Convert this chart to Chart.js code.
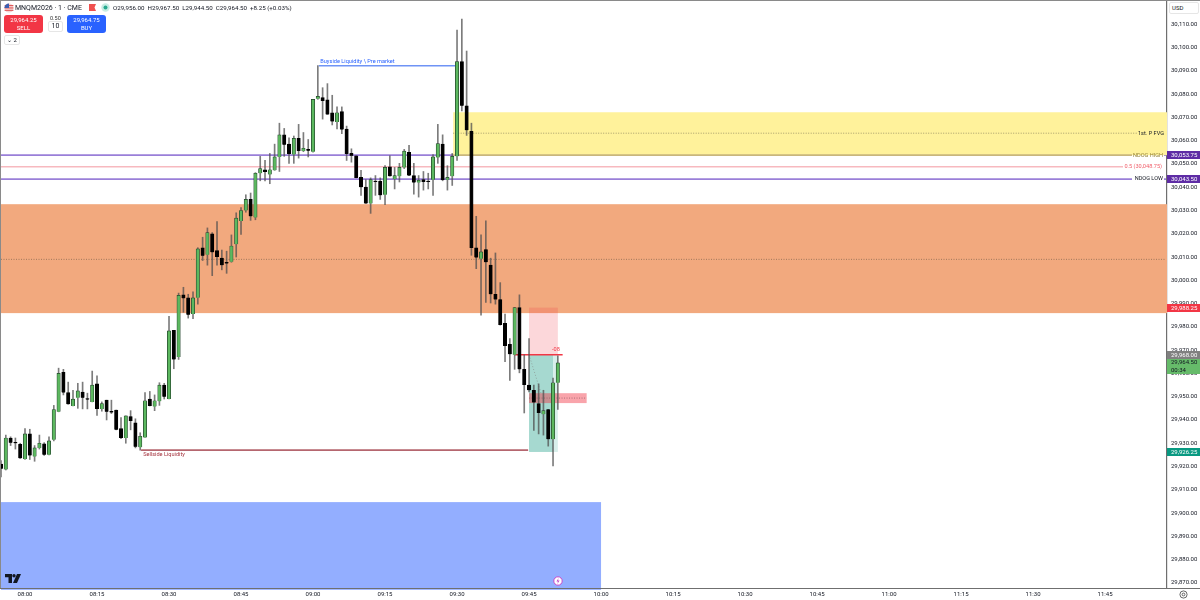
<!DOCTYPE html>
<html>
<head>
<meta charset="utf-8">
<title>MNQM2026 1m</title>
<script src="https://cdn.jsdelivr.net/npm/chart.js@4/dist/chart.umd.min.js"></script>
<style>
html, body { margin: 0; padding: 0; background: #fff; }
#wrap { position: relative; width: 1200px; height: 600px; overflow: hidden; font-family: Roboto, sans-serif; color: #131722; }
canvas { position: absolute; left: 0; top: 0; }
.hd { position: absolute; white-space: nowrap; font-size: 6.2px; line-height: 8px; }
.btn { position: absolute; top: 15px; width: 39px; height: 18px; border-radius: 3px; color: #fff; text-align: center; font-size: 6px; line-height: 8px; padding-top: 1px; box-sizing: border-box; }
.box { position: absolute; box-sizing: border-box; border: 1px solid #e6e6e6; border-radius: 2px; background: #fff; text-align: center; }
</style>
</head>
<body>
<div id="wrap">
  <canvas id="grafica" width="1200" height="600"></canvas>

  <svg style="position:absolute;left:4px;top:3px" width="10" height="10" viewBox="0 0 10 10">
    <circle cx="5" cy="5" r="4.6" fill="#f5d5d5"/><rect x="0.6" y="2" width="8.8" height="1.1" fill="#e05a5a"/><rect x="0.6" y="4.4" width="8.8" height="1.1" fill="#e05a5a"/><rect x="0.6" y="6.8" width="8.8" height="1.1" fill="#e05a5a"/>
    <path d="M5 0.4A4.6 4.6 0 0 0 0.4 5H5Z" fill="#3c5fb0"/>
  </svg>
  <div class="hd" style="left:15px;top:4px;font-size:7px">MNQM2026 · 1 · CME</div>
  <svg style="position:absolute;left:89px;top:4px" width="7" height="8" viewBox="0 0 7 8"><path d="M0 0H7L5.5 3.5L7 7H0Z" fill="#f0504f"/></svg>
  <svg style="position:absolute;left:101px;top:3px" width="9" height="9" viewBox="0 0 9 9"><circle cx="4.5" cy="4.5" r="4.2" fill="#c7ece4"/><circle cx="4.5" cy="4.5" r="2" fill="#27a98f"/></svg>
  <div class="hd" style="left:113px;top:4px">O29,956.00&nbsp; H29,967.50&nbsp; L29,944.50&nbsp; C29,964.50&nbsp; +8.25 (+0.03%)</div>

  <div class="btn" style="left:4px;background:#f23645">29,964.25<br>SELL</div>
  <div class="hd" style="left:50px;top:14px;font-size:5.5px;color:#333">0.50</div>
  <div class="box" style="left:48px;top:21px;width:15px;height:11px;font-size:7px;line-height:9px">10</div>
  <div class="btn" style="left:67px;background:#2962ff">29,964.75<br>BUY</div>
  <div class="box" style="left:4px;top:35px;width:16px;height:10px;font-size:6px;line-height:8px">⌄ 2</div>

  <div class="box" style="left:1169px;top:2px;width:30px;height:12px;font-size:6px;line-height:10px;text-align:left;padding-left:2px">USD</div>

  <svg style="position:absolute;left:5px;top:574px" width="16" height="9" viewBox="0 0 16 9">
    <path d="M0 0H7V9H3.5V3.2H0Z" fill="#131722"/><circle cx="9" cy="1.7" r="1.7" fill="#131722"/><path d="M12 0H16L12 9H8Z" fill="#131722"/>
  </svg>
  <svg style="position:absolute;left:553px;top:576px" width="10" height="10" viewBox="0 0 10 10">
    <circle cx="5" cy="5" r="4.2" fill="#fff" stroke="#c548c9" stroke-width="1"/><path d="M5.6 2L3.4 5.5H5L4.4 8L6.6 4.5H5Z" fill="#c548c9"/>
  </svg>
  <svg style="position:absolute;left:1179px;top:590px" width="9" height="9" viewBox="0 0 9 9">
    <circle cx="4.5" cy="4.5" r="3.6" fill="none" stroke="#444" stroke-width="0.8"/><circle cx="4.5" cy="4.5" r="1.4" fill="none" stroke="#444" stroke-width="0.8"/>
  </svg>
</div>

<script>
// minutes from 08:00 for every one-minute candle
const minutes = [-5,-4,-3,-2,-1,0,1,2,3,4,5,6,7,8,9,10,11,12,13,14,15,16,17,18,19,20,21,22,23,24,25,26,27,28,29,30,31,32,33,34,35,36,37,38,39,40,41,42,43,44,45,46,47,48,49,50,51,52,53,54,55,56,57,58,59,60,61,62,63,64,65,66,67,68,69,70,71,72,73,74,75,76,77,78,79,80,81,82,83,84,85,86,87,88,89,90,91,92,93,94,95,96,97,98,99,100,101,102,103,104,105,106,107,108,109,110,111];

const opens = [29921,29918.75,29932.25,29930.25,29929.5,29923.25,29934,29924.25,29928,29929.75,29925,29931.5,29943.5,29960.5,29951.75,29946,29949.5,29952,29949,29947.75,29955.5,29944.75,29948.5,29943.75,29944.25,29936.25,29932.25,29941.5,29938.75,29928.25,29932.5,29949,29945.75,29948,29955,29949,29978.5,29967,29993.75,29992.5,29985.5,29992.5,30014,30011,30020,30012.75,30009.5,30007.75,30008,30015.5,30025.5,30030,30034.75,30027,30046,30047.5,30045.5,30047.25,30053,30062.5,30058.5,30054,30061,30055.5,30056.25,30055.25,30078,30078.5,30077.5,30072,30068,30072.5,30065,30054.5,30053.5,30044.25,30040,30033,30042.5,30042.5,30036.75,30048.75,30043.5,30044.75,30048.5,30055,30045,30042,30043.25,30042.5,30043.25,30052.75,30058.5,30043.25,30044.75,30053.25,30094,30075,30064,30014,30009.25,30013.25,30006.5,29994,29991.75,29981.5,29972.5,29968,29988.25,29961.75,29955,29952.75,29947,29942.5,29944.5,29931.75,29956];
const highs = [29922.5,29933.5,29932.75,29932.25,29930,29936.25,29936,29929,29933.5,29930.25,29932.75,29946.25,29962.25,29961.75,29956.25,29952.75,29955.75,29956.25,29951.5,29961,29959,29947.75,29948.5,29948.5,29944.25,29941,29941.75,29944,29940.5,29934.5,29951.75,29952.25,29950.75,29956,29955.75,29984.5,29978.5,29994.5,29997,29994,29995,30014,30018.5,30022.5,30020.5,30025.25,30013,30012.5,30019.5,30029,30031.25,30036.75,30037.5,30046.25,30053.25,30051.5,30054.5,30058.5,30067.5,30065.25,30061.25,30062,30067,30063.5,30060.5,30077.75,30092.25,30082.75,30084.5,30079.5,30074.5,30074.5,30066.25,30056.5,30053.5,30047.25,30043.25,30044,30045,30044,30049.25,30053.5,30048.5,30050.25,30056.25,30058,30050.25,30045,30046.75,30046,30054,30067,30062.5,30049.25,30054.5,30107.5,30112.25,30098.5,30067.5,30027.5,30019.5,30025.5,30009.5,30011.75,29999,29985.5,29975,29988.25,29993.75,29968,29975,29955,29955.5,29952.75,29944.5,29958,29967.5];
const lows = [29915.5,29918.5,29929,29927.5,29923.5,29923,29923,29922.25,29927.5,29924.75,29925,29931,29943.5,29950.75,29946.75,29946,29945,29944.75,29944.75,29947.75,29942,29943.75,29940,29942.75,29935.75,29932,29930,29935.75,29928,29927,29932.5,29946,29944,29946.25,29949,29949,29962,29966,29986.25,29983.75,29983.5,29989.75,30008.5,30006.5,30002,30006.5,30004.5,30003,30007.75,30010,30019.75,30029.25,30025.75,30026,30042.75,30042.75,30041.5,30047.25,30046.75,30053.25,30050.25,30050.25,30052.5,30055.25,30053,30055,30077.75,30069.25,30071.25,30066.75,30065,30063,30051.5,30050.75,30044,30036.5,30033,30028.75,30036.5,30034.75,30032.5,30044.75,30039.25,30042.25,30048,30045,30037,30035.75,30038.75,30039.25,30036.5,30050.25,30042.75,30038.75,30040.75,30051.5,30072.75,30062.25,30010.75,30005,29985,29990.5,29990.25,29989.75,29980.75,29965,29957,29961.75,29960.25,29943,29952,29935.5,29934,29933.5,29928.75,29920.25,29944.5];
const closes = [29919,29932.25,29930.25,29930,29923.5,29934,29924.75,29928,29930,29925,29931,29944.5,29960,29951.75,29946.75,29949,29952.5,29949.5,29948.75,29955,29944.75,29947,29943.5,29943.25,29935.75,29932.25,29941.75,29939.5,29928.5,29933,29948.25,29946,29948.25,29955,29950,29978.25,29966,29993.5,29992.25,29985.25,29992.5,30013.5,30010.5,30020.5,30012,30010,30006.5,30007.25,30014.75,30026.75,30030,30034.75,30027.5,30046,30048,30046.5,30047.5,30053,30062.5,30058.25,30054.25,30061,30055.5,30056.75,30055.75,30077.75,30079,30077,30071.25,30068.25,30072,30064.75,30054.25,30053.5,30044,30040,30033,30043.25,30042.25,30036.5,30048.5,30044.75,30045,30048.5,30055.5,30045,30042,30043,30042.25,30042.25,30053,30058.75,30043.25,30044.25,30053.25,30094,30075,30064.5,30014,30009.75,30012.25,30007.75,29994,29991.75,29980.75,29971.75,29968.25,29988.25,29961.75,29955,29952.75,29947.5,29943,29944,29931.75,29956,29964.5];

const timeTicks = [0,15,30,45,60,75,90,105,120,135,150,165,180,195,210,225];
const timeLabels = ['08:00','08:15','08:30','08:45','09:00','09:15','09:30','09:45','10:00','10:15','10:30','10:45','11:00','11:15','11:30','11:45'];
const priceTicks = [30110,30100,30090,30080,30070,30060,30050,30040,30030,30020,30010,30000,29990,29980,29970,29960,29950,29940,29930,29920,29910,29900,29890,29880,29870];

// drawn levels, prices and minutes
const fvgZone = [89.2, 237.9, 30072.2, 30053.75];
const supplyZone = [-5, 237.9, 30032.7, 29985.9];
const demandZone = [-5, 120, 29904.7, 29867];
const ndogHigh = 30053.75;
const ndogLow = 30043.5;
const ndogMid = 30048.75;
const fvgMid = 30063.2;
const supplyMid = 30009;
const buyside = [61.2, 90, 30092.2];
const sellside = [24.2, 104.8, 29927];
const entry = 29968;
const stopPrice = 29988.25;
const targetPrice = 29926.25;
const positionSpan = [105, 111, 110];
const entryLine = [102, 112];
const redBox = [105, 117, 29951.5, 29947.25, 29949.4];
const lastPrice = 29964.5;

const wickData = minutes.map((m, i) => ({ x: m, y: [lows[i], highs[i]] }));
const bodyData = minutes.map((m, i) => ({ x: m, y: [Math.min(opens[i], closes[i]), Math.max(opens[i], closes[i])] }));
const bodyColors = closes.map((c, i) => c >= opens[i] ? '#5cb85f' : '#000000');
const bodyBorders = closes.map((c, i) => c >= opens[i] ? '#22422a' : '#000000');

const fmt = v => v.toLocaleString('en-US', { minimumFractionDigits: 2, maximumFractionDigits: 2 });
const FONT = '6px Roboto, sans-serif';
const NOTE_FONT = '5.6px Roboto, sans-serif';

const overlays = {
    id: 'overlays',
    beforeDatasetsDraw(chart) {
        const { ctx, scales } = chart;
        const X = v => scales.x.getPixelForValue(v);
        const Y = v => scales.y.getPixelForValue(v);

        const zone = (z, color) => {
            ctx.fillStyle = color;
            ctx.fillRect(X(z[0]), Y(z[2]), X(z[1]) - X(z[0]), Y(z[3]) - Y(z[2]));
        };
        const line = (x0, x1, p, color, w, dash) => {
            ctx.beginPath();
            ctx.strokeStyle = color;
            ctx.lineWidth = w;
            ctx.setLineDash(dash || []);
            ctx.moveTo(x0, Y(p));
            ctx.lineTo(x1, Y(p));
            ctx.stroke();
            ctx.setLineDash([]);
        };

        ctx.save();
        zone(demandZone, '#93aeff');
        zone(supplyZone, '#f2a97e');
        line(1, 1166, supplyMid, '#8a6a50', 0.8, [1, 1.5]);

        // NDOG levels stop just short of their labels
        line(1, 1132, ndogHigh, '#9a7fd8', 1.7);
        line(1164, 1166, ndogHigh, '#9a7fd8', 1.7);
        line(1, 1132, ndogLow, '#9a7fd8', 1.7);
        line(1164, 1166, ndogLow, '#9a7fd8', 1.7);
        line(1, 1123, ndogMid, '#f7b9bf', 1.5);

        zone(fvgZone, '#fff29b');
        line(X(fvgZone[0]), 1132, ndogHigh, '#c9b67d', 1.7);
        line(X(fvgZone[0]), 1137, fvgMid, '#8f8660', 0.8, [1, 1.5]);

        line(X(buyside[0]), X(buyside[1]), buyside[2], '#6f93f5', 1.6);
        line(X(sellside[0]), X(sellside[1]), sellside[2], '#b5666f', 1.6);

        // long position box
        zone([positionSpan[0], positionSpan[1], stopPrice, entry], 'rgba(242,54,69,0.2)');
        zone([positionSpan[0], positionSpan[2], entry, targetPrice], '#a6d9d0');
        zone([positionSpan[2], positionSpan[1], entry, targetPrice], '#d8efeb');
        line(X(sellside[0]), X(sellside[1]), sellside[2], '#b5666f', 1.6);
        ctx.beginPath();
        ctx.strokeStyle = '#8a9a96';
        ctx.lineWidth = 0.8;
        ctx.setLineDash([1, 2]);
        ctx.moveTo(X(105), Y(entry));
        ctx.lineTo(X(107.5), Y(redBox[2]));
        ctx.stroke();
        ctx.setLineDash([]);
        zone(redBox, 'rgba(242,54,69,0.45)');
        line(X(redBox[0]), X(redBox[1]), redBox[4], '#9a6068', 0.8, [1, 1.5]);
        line(X(entryLine[0]), X(entryLine[1]), entry, '#f23645', 1.6);

        ctx.font = NOTE_FONT;
        ctx.textBaseline = 'middle';
        ctx.textAlign = 'left';
        ctx.fillStyle = '#2962ff';
        ctx.fillText('Buyside Liquidity \\ Pre market', X(buyside[0]) + 1.5, Y(buyside[2]) - 4.5);
        ctx.fillStyle = '#a5343f';
        ctx.fillText('Sellside Liquidity', X(sellside[0]) + 2, Y(sellside[2]) + 4.5);
        ctx.fillStyle = '#f23645';
        ctx.fillText('-08', 552, Y(entry) - 5);
        ctx.textAlign = 'right';
        ctx.fillStyle = '#131722';
        ctx.fillText('1st. P FVG', 1164, Y(fvgMid));
        ctx.fillStyle = '#8f7d35';
        ctx.fillText('NDOG HIGH', 1163, Y(ndogHigh));
        ctx.fillStyle = '#f0606c';
        ctx.fillText('0.5 (30,048.75)', 1162, Y(ndogMid));
        ctx.fillStyle = '#131722';
        ctx.fillText('NDOG LOW', 1163, Y(ndogLow));
        ctx.restore();
    },
    afterDraw(chart) {
        const { ctx, scales } = chart;
        const Y = v => scales.y.getPixelForValue(v);

        const tag = (p, color, textColor) => {
            ctx.fillStyle = color;
            ctx.fillRect(1167, Math.round(Y(p)) - 4, 33, 8);
            ctx.fillStyle = textColor;
            ctx.fillText(fmt(p), 1171, Y(p) + 0.5);
        };

        ctx.save();
        // frame
        ctx.fillStyle = '#8a8a8a';
        ctx.fillRect(0, 0, 1, 588);
        ctx.fillRect(0, 0, 1200, 1);
        ctx.fillStyle = '#6f6f6f';
        ctx.fillRect(0, 588, 1200, 1);

        ctx.font = FONT;
        ctx.textBaseline = 'middle';
        ctx.textAlign = 'left';
        tag(ndogHigh, '#5e2ca5', '#ffffff');
        tag(ndogLow, '#5e2ca5', '#ffffff');
        tag(stopPrice, '#f23645', '#ffffff');

        // countdown tag under the last price
        ctx.fillStyle = '#66bb6a';
        ctx.fillRect(1167, 358, 33, 16);
        ctx.fillStyle = '#131722';
        ctx.fillText(fmt(lastPrice), 1171, 362.5);
        ctx.fillText('00:34', 1171, 370);

        tag(entry, '#808080', '#ffffff');
        tag(targetPrice, '#089981', '#ffffff');
        ctx.restore();
    }
};

const chartVelas = new Chart(document.getElementById('grafica'), {
    type: 'bar',
    data: {
        datasets: [
            { label: 'cuerpos', data: bodyData, backgroundColor: bodyColors, borderColor: bodyBorders, borderWidth: 0.7, barThickness: 3.4, minBarLength: 1, grouped: false },
            { label: 'mechas', data: wickData, backgroundColor: 'rgba(80,80,80,0.75)', borderWidth: 0, barThickness: 1, grouped: false }
        ]
    },
    options: {
        responsive: false,
        animation: false,
        layout: { padding: { left: 1, top: 1, right: 0, bottom: 0 } },
        plugins: { legend: { display: false }, tooltip: { enabled: false } },
        scales: {
            x: {
                type: 'linear',
                offset: false,
                min: -5,
                max: 237.9,
                grid: { display: false, drawTicks: false },
                border: { display: false },
                afterBuildTicks: s => { s.ticks = timeTicks.map(v => ({ value: v })); },
                afterFit: s => { s.height = 12; s.paddingLeft = 0; s.paddingRight = 0; },
                ticks: {
                    autoSkip: false,
                    maxRotation: 0,
                    padding: 3,
                    color: '#131722',
                    font: { family: 'Roboto', size: 6 },
                    callback: v => timeLabels[timeTicks.indexOf(v)]
                }
            },
            y: {
                position: 'right',
                min: 29867.8,
                max: 30120,
                grid: { display: false, drawTicks: false },
                border: { color: '#6f6f6f', width: 1.2 },
                afterBuildTicks: s => { s.ticks = priceTicks.map(v => ({ value: v })); },
                afterFit: s => { s.width = 33; s.paddingTop = 0; s.paddingBottom = 0; },
                ticks: {
                    autoSkip: false,
                    padding: 4,
                    color: '#131722',
                    font: { family: 'Roboto', size: 6 },
                    callback: v => fmt(v)
                }
            }
        }
    },
    plugins: [overlays]
});
</script>
</body>
</html>
